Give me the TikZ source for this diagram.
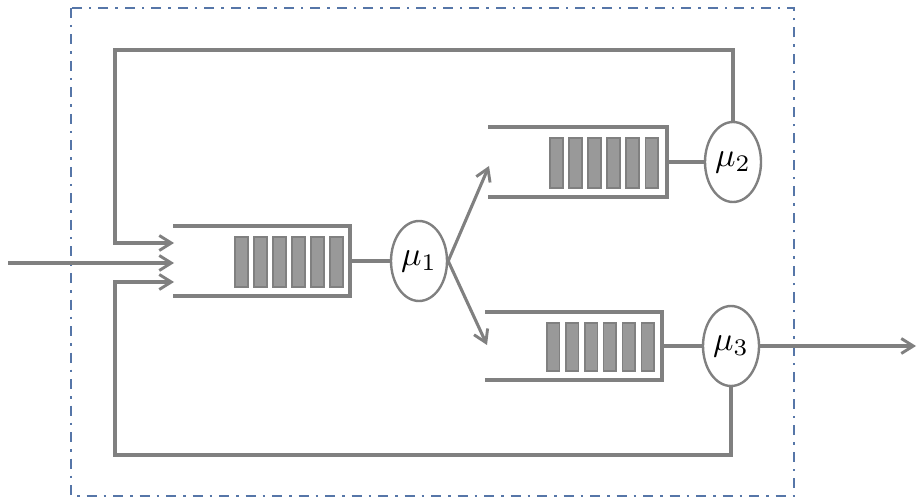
\documentclass[tikz,border=0pt]{standalone}
\usepackage{graphicx}
\usetikzlibrary{arrows.meta,shapes.geometric}
\definecolor{lgray}{HTML}{808080}
\definecolor{barfill}{HTML}{999999}
\definecolor{framec}{HTML}{5676A8}
\newcommand{\srvlabel}[1]{\scalebox{3.4}{$#1$}}
\tikzset{
  conn/.style={draw=lgray,line width=3.1pt},
  arr/.style={conn,-{Straight Barb[length=12pt,width=15pt,line width=2.9pt]}},
  srv/.style={ellipse,draw=lgray,line width=2.4pt,fill=white,minimum width=56pt,minimum height=80pt,inner sep=0pt},
  bar/.style={fill=barfill,draw=lgray,line width=1.6pt},
  qline/.style={draw=lgray,line width=3.3pt},
  frame/.style={draw=framec,line width=2pt,dash pattern=on 10pt off 7pt on 2.5pt off 7pt}
}
\begin{document}
\begin{tikzpicture}[x=1pt,y=-1pt]
\useasboundingbox (0,0) rectangle (917,502);
% frame
\draw[frame] (71,8) rectangle (794,496);
% queues: left x, right x, top y, bottom y, bar start x, bar end x
\foreach \lx/\rx/\ty/\by/\bs/\be in {173/350/226/296/235/343, 488/667/127/197/550/658, 485/662/312/380/547/654}{
  \draw[qline] (\lx,\ty) -- (\rx,\ty) -- (\rx,\by) -- (\lx,\by);
  \pgfmathsetmacro{\bw}{(\be-\bs)/8.5}
  \foreach \i in {0,...,5}{
    \pgfmathsetmacro{\xa}{\bs+\i*1.5*\bw}
    \pgfmathsetmacro{\xb}{\xa+\bw}
    \draw[bar] (\xa,\ty+11) rectangle (\xb,\by-9);
  }
}
% queue endpoints
\coordinate (q1r) at (350,261);
\coordinate (q2r) at (667,162);
\coordinate (q3r) at (662,346);
\coordinate (q1a) at (174,243);
\coordinate (q1b) at (174,263);
\coordinate (q1c) at (174,282);
\coordinate (q2in) at (489,166);
\coordinate (q3in) at (487,345);
\coordinate (in) at (8,263);
\coordinate (out) at (916,346);
\coordinate (tl) at (115,50);
\coordinate (bl) at (115,455);
% servers
\node[srv] (m1) at (419,261) {\srvlabel{\mu_1}};
\node[srv] (m2) at (733,162) {\srvlabel{\mu_2}};
\node[srv] (m3) at (731,346) {\srvlabel{\mu_3}};
% connectors
\draw[conn] (q1r) -- (m1);
\draw[conn] (q2r) -- (m2);
\draw[conn] (q3r) -- (m3);
\draw[arr] (m1.east) -- (q2in);
\draw[arr] (m1.east) -- (q3in);
\draw[arr] (m3.east) -- (out);
\draw[arr] (in) -- (q1b);
\draw[arr] (m2.north) |- (tl) |- (q1a);
\draw[arr] (m3.south) |- (bl) |- (q1c);
\end{tikzpicture}
\end{document}
